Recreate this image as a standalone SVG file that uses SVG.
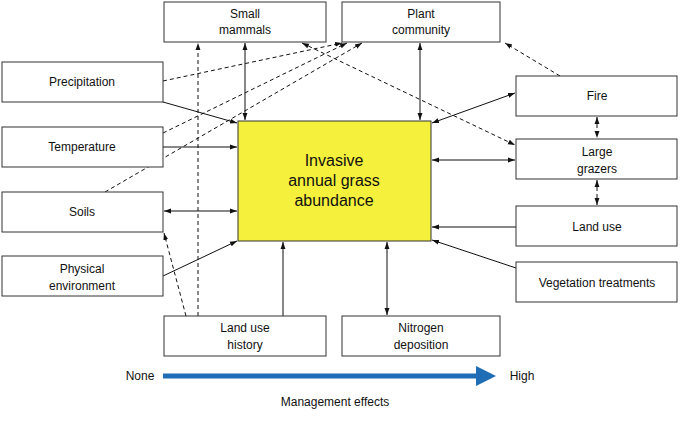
<svg xmlns="http://www.w3.org/2000/svg" width="681" height="422" viewBox="0 0 681 422">
<style>
.b{fill:#fff;stroke:#333;stroke-width:1}
.t{font-family:"Liberation Sans",Arial,sans-serif;font-size:12px;fill:#111;text-anchor:middle}
.s{stroke:#111;stroke-width:1;fill:none}
.d{stroke:#111;stroke-width:1;fill:none;stroke-dasharray:4,3}
</style>
<defs>
<marker id="a" viewBox="0 0 10 10" refX="10" refY="5" markerWidth="7" markerHeight="7" orient="auto-start-reverse"><path d="M0,1.5 L10,5 L0,8.5 z" fill="#111"/></marker>
<marker id="bl" viewBox="0 0 10 10" refX="5" refY="5" markerWidth="4" markerHeight="4" orient="auto"><path d="M0,0 L10,5 L0,10 z" fill="#1f6db5"/></marker>
</defs>
<rect width="681" height="422" fill="#fff"/>
<g id="connectors">
<line class="s" x1="245" y1="43" x2="245" y2="120" marker-start="url(#a)" marker-end="url(#a)"/>
<line class="s" x1="420" y1="43" x2="420" y2="120" marker-start="url(#a)" marker-end="url(#a)"/>
<line class="s" x1="163" y1="102" x2="237" y2="123" marker-end="url(#a)"/>
<line class="s" x1="163" y1="147" x2="237" y2="147" marker-end="url(#a)"/>
<line class="s" x1="164" y1="211" x2="237" y2="211" marker-start="url(#a)" marker-end="url(#a)"/>
<line class="s" x1="163" y1="276" x2="237" y2="241" marker-end="url(#a)"/>
<line class="s" x1="283" y1="316" x2="283" y2="242" marker-end="url(#a)"/>
<line class="s" x1="387" y1="242" x2="387" y2="315" marker-start="url(#a)" marker-end="url(#a)"/>
<line class="s" x1="432" y1="123" x2="515" y2="93" marker-start="url(#a)" marker-end="url(#a)"/>
<line class="s" x1="432" y1="160" x2="515" y2="160" marker-start="url(#a)" marker-end="url(#a)"/>
<line class="s" x1="516" y1="227" x2="432" y2="227" marker-end="url(#a)"/>
<line class="s" x1="516" y1="268" x2="432" y2="240" marker-end="url(#a)"/>
<line class="d" x1="597" y1="117" x2="597" y2="138" marker-start="url(#a)" marker-end="url(#a)"/>
<line class="d" x1="597" y1="180" x2="597" y2="205" marker-start="url(#a)" marker-end="url(#a)"/>
<line class="d" x1="163" y1="81" x2="342" y2="43" marker-end="url(#a)"/>
<line class="d" x1="163" y1="133" x2="347" y2="43" marker-end="url(#a)"/>
<line class="d" x1="105" y1="192" x2="362" y2="43" marker-end="url(#a)"/>
<line class="d" x1="560" y1="76" x2="505" y2="43" marker-end="url(#a)"/>
<line class="d" x1="302" y1="43" x2="515" y2="145" marker-start="url(#a)" marker-end="url(#a)"/>
<line class="d" x1="198" y1="316" x2="198" y2="43" marker-end="url(#a)"/>
<line class="d" x1="186" y1="316" x2="164" y2="233" marker-end="url(#a)"/>
</g>
<g id="center"><rect x="238" y="121" width="193" height="120" fill="#f5f03c" stroke="#333"/>
<text class="t" style="font-size:16px" x="334" y="166">Invasive</text><text class="t" style="font-size:16px" x="334" y="186">annual grass</text><text class="t" style="font-size:16px" x="334" y="206">abundance</text></g>
<g id="mammals"><rect class="b" x="164" y="2" width="162" height="40"/><text class="t" x="245" y="18">Small</text><text class="t" x="245" y="34">mammals</text></g>
<g id="plant"><rect class="b" x="342" y="2" width="158" height="40"/><text class="t" x="421" y="18">Plant</text><text class="t" x="421" y="34">community</text></g>
<g id="precip"><rect class="b" x="2" y="62" width="161" height="40"/><text class="t" x="82" y="86">Precipitation</text></g>
<g id="temp"><rect class="b" x="2" y="127" width="161" height="40"/><text class="t" x="82" y="151">Temperature</text></g>
<g id="soils"><rect class="b" x="2" y="192" width="161" height="40"/><text class="t" x="82" y="216">Soils</text></g>
<g id="phys"><rect class="b" x="2" y="256" width="161" height="40"/><text class="t" x="82" y="273">Physical</text><text class="t" x="82" y="290">environment</text></g>
<g id="luh"><rect class="b" x="164" y="316" width="162" height="40"/><text class="t" x="245" y="332">Land use</text><text class="t" x="245" y="349">history</text></g>
<g id="nitro"><rect class="b" x="342" y="316" width="158" height="40"/><text class="t" x="421" y="332">Nitrogen</text><text class="t" x="421" y="349">deposition</text></g>
<g id="fire"><rect class="b" x="516" y="76" width="161" height="40"/><text class="t" x="597" y="100">Fire</text></g>
<g id="grazers"><rect class="b" x="516" y="139" width="161" height="40"/><text class="t" x="597" y="156">Large</text><text class="t" x="597" y="173">grazers</text></g>
<g id="landuse"><rect class="b" x="516" y="206" width="161" height="40"/><text class="t" x="597" y="231">Land use</text></g>
<g id="veg"><rect class="b" x="516" y="262" width="161" height="40"/><text class="t" x="597" y="287">Vegetation treatments</text></g>
<g id="scale">
<line x1="163" y1="376" x2="486" y2="376" stroke="#1f6db5" stroke-width="5" marker-end="url(#bl)"/>
<text class="t" x="140" y="380">None</text><text class="t" x="522" y="380">High</text>
<text class="t" x="335" y="406">Management effects</text></g>
</svg>
